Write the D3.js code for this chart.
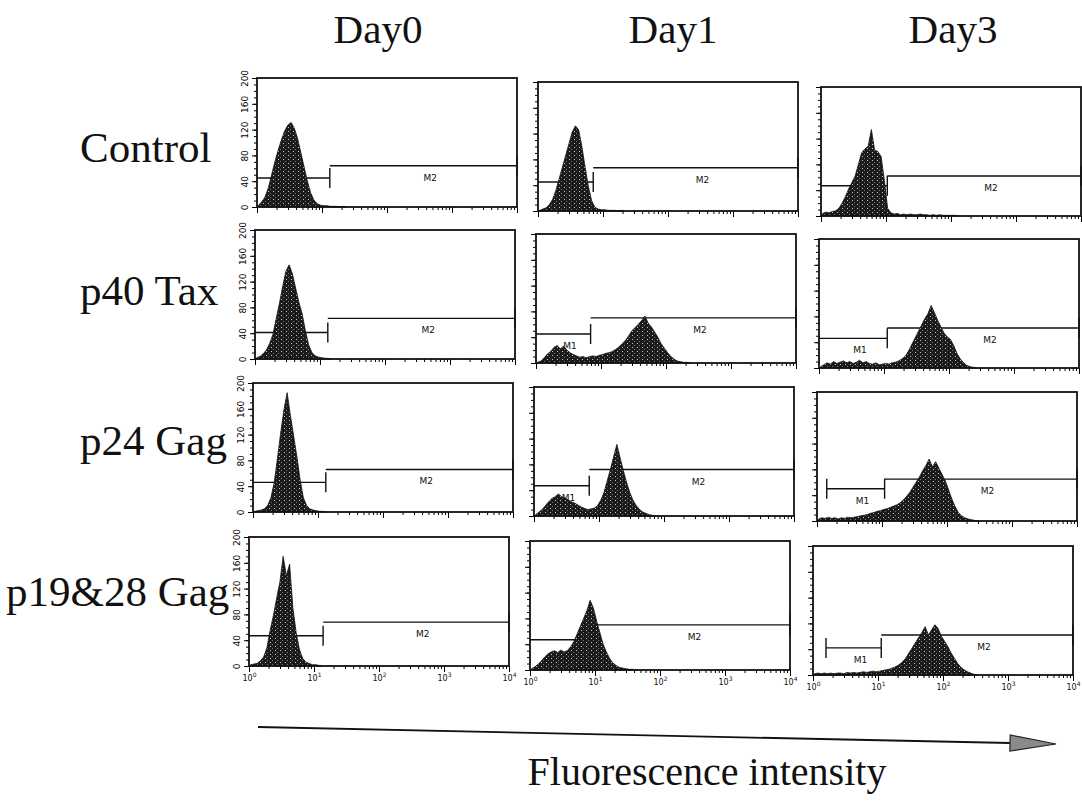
<!DOCTYPE html>
<html>
<head>
<meta charset="utf-8">
<title>Fluorescence histograms</title>
<style>
  body { margin: 0; background: #fff; }
  svg { display: block; }
  .big { font-family: "Liberation Serif", "Times New Roman", serif; fill: #111; }
  .mk { font-family: "DejaVu Sans", sans-serif; font-size: 9px; fill: #111; }
</style>
<script src="https://d3js.org/d3.v7.min.js"></script>
</head>
<body>
<script>
// ---- data ----
var days = ["Day0", "Day1", "Day3"];
var antigens = ["Control", "p40 Tax", "p24 Gag", "p19&28 Gag"];
var countTicks = [0, 40, 80, 120, 160, 200];
var decades = [1, 10, 100, 1000, 10000];

// histogram counts, 20 bins per decade starting at 10^0 (bins past the end are empty)
var hControlD0 = [3, 8, 16, 30, 50, 70, 88, 104, 118, 127, 131, 122, 106, 84, 62, 40, 22, 11, 5, 3, 2, 2, 1, 1, 1, 0, 1];
var hControlD1 = [1, 3, 5, 10, 18, 32, 50, 68, 86, 104, 122, 132, 126, 100, 68, 38, 16, 6, 3, 2, 2, 1, 1, 1, 0, 1];
var hControlD3 = [4, 6, 5, 7, 8, 12, 20, 30, 42, 52, 62, 80, 98, 104, 108, 134, 102, 100, 92, 55, 12, 5, 3, 4, 2, 3, 2, 3, 2, 2, 3, 2, 2, 1, 2, 1, 2, 1, 1, 1, 1, 1];
var hTaxD0 = [2, 4, 8, 14, 24, 38, 62, 86, 112, 136, 146, 132, 110, 88, 70, 44, 22, 10, 5, 3, 2, 1, 1];
var hTaxD1 = [1, 3, 8, 14, 18, 24, 27, 22, 26, 20, 16, 13, 11, 9, 10, 8, 10, 11, 10, 12, 13, 15, 16, 18, 21, 25, 30, 35, 42, 50, 55, 60, 66, 73, 62, 56, 48, 40, 30, 23, 16, 10, 6, 3, 2, 1, 1];
var hTaxD3 = [2, 5, 8, 6, 10, 7, 9, 11, 8, 10, 7, 9, 12, 8, 10, 7, 6, 8, 5, 6, 7, 6, 8, 9, 11, 14, 18, 26, 36, 46, 56, 66, 76, 84, 97, 86, 74, 64, 54, 48, 44, 34, 22, 14, 8, 4, 2, 1];
var hGag24D0 = [1, 2, 3, 5, 10, 22, 45, 82, 122, 158, 185, 150, 118, 86, 50, 22, 10, 5, 3, 2, 1, 1];
var hGag24D1 = [2, 6, 10, 16, 22, 27, 30, 34, 30, 28, 25, 22, 20, 17, 14, 12, 10, 11, 12, 16, 24, 36, 54, 72, 92, 111, 90, 70, 52, 36, 24, 16, 10, 6, 4, 2, 1];
var hGag24D3 = [3, 5, 4, 6, 4, 5, 3, 5, 4, 6, 5, 6, 7, 8, 9, 10, 12, 13, 15, 16, 18, 19, 21, 23, 25, 28, 32, 38, 44, 52, 60, 68, 78, 86, 96, 84, 92, 82, 72, 62, 48, 34, 22, 13, 8, 5, 3, 2, 1];
var hGag19D0 = [2, 3, 4, 8, 14, 28, 55, 78, 105, 130, 170, 140, 158, 90, 52, 26, 12, 6, 4, 2, 2, 1];
var hGag19D1 = [2, 5, 9, 14, 20, 25, 28, 30, 27, 31, 28, 30, 36, 44, 56, 68, 80, 92, 108, 96, 76, 58, 40, 28, 18, 11, 7, 4, 3, 2, 1, 1];
var hGag19D3 = [2, 3, 2, 3, 2, 3, 2, 3, 3, 2, 4, 3, 4, 3, 4, 5, 4, 5, 6, 5, 6, 7, 8, 9, 11, 13, 16, 20, 26, 34, 42, 50, 58, 66, 75, 62, 70, 78, 72, 60, 52, 44, 34, 26, 18, 12, 8, 5, 3, 1];

// markers, row by row: M1 from m1From to gateSplit (log10), M2 from gateSplit to 10^4
var m1From    = [0, 0, 0, 0, 0, 0, 0, 0, 0.15, 0, 0, 0.2];
var gateSplit = [1.12, 0.85, 1.02, 1.12, 0.84, 1.05, 1.12, 0.85, 1.04, 1.14, 0.85, 1.05];
var m1Level   = [45, 45, 47, 41, 45, 46, 46, 47, 50, 47, 47, 42];
var m2Level   = [64, 67, 62, 63, 70, 62, 66, 72, 65, 68, 70, 62];
var m1Named   = [false, false, false, false, true, true, false, true, true, false, false, true];

var histograms = [
  [hControlD0, hControlD1, hControlD3],
  [hTaxD0, hTaxD1, hTaxD3],
  [hGag24D0, hGag24D1, hGag24D3],
  [hGag19D0, hGag19D1, hGag19D3]
];

// ---- layout ----
var width = 1082, height = 801;
var colX = [257, 538, 821];
var rowY = [78, 230, 383, 537];
var rowShift = [0, -2, -4, -8];   // scan is a bit skewed
var colDrop = [0, 4, 9];
var pw = 260, ph = 129;

var svg = d3.select("body").append("svg")
    .attr("width", width)
    .attr("height", height);

var defs = svg.append("defs");
var pat = defs.append("pattern").attr("id", "speckle")
    .attr("width", 5).attr("height", 4).attr("patternUnits", "userSpaceOnUse");
pat.append("rect").attr("width", 5).attr("height", 4).attr("fill", "#1b1b1b");
pat.append("rect").attr("x", 1).attr("y", 1).attr("width", 1).attr("height", 1).attr("fill", "#c8c8c8");
pat.append("rect").attr("x", 3).attr("y", 3).attr("width", 1).attr("height", 1).attr("fill", "#777");

var x = d3.scaleLog().domain([1, 10000]).range([0, pw]);
var y = d3.scaleLinear().domain([0, 200]).range([ph, 0]);

var area = d3.area()
    .x(function(d) { return x(Math.pow(10, d.lg)); })
    .y0(ph)
    .y1(function(d) { return y(d.c); });

var minorX = [];
decades.slice(0, 4).forEach(function(p) {
  for (var k = 2; k <= 9; k++) minorX.push(p * k);
});

// headers
svg.selectAll(".day").data(days).enter().append("text")
    .attr("class", "big day")
    .attr("x", function(d, i) { return [378, 673, 953][i]; })
    .attr("y", 43)
    .attr("text-anchor", "middle")
    .style("font-size", "41px")
    .text(function(d) { return d; });

svg.selectAll(".ag").data(antigens).enter().append("text")
    .attr("class", "big ag")
    .attr("x", function(d, i) { return i == 3 ? 6 : 80; })
    .attr("y", function(d, i) { return [162, 305, 455, 606][i]; })
    .style("font-size", "43px")
    .text(function(d) { return d; });

function marker(g, a, b, lvl, name, named, leftBar) {
  var x0 = x(Math.pow(10, a)), x1 = x(Math.pow(10, b)), yy = y(lvl);
  g.append("line").attr("x1", x0).attr("x2", x1).attr("y1", yy).attr("y2", yy);
  if (leftBar) g.append("line").attr("x1", x0).attr("x2", x0).attr("y1", yy - 10).attr("y2", yy + 10);
  g.append("line").attr("x1", x1).attr("x2", x1).attr("y1", yy - 10).attr("y2", yy + 10);
  if (named) {
    g.append("text").attr("class", "mk")
      .attr("x", x(Math.pow(10, (a + b) / 2)))
      .attr("y", yy + 15)
      .attr("stroke", "none")
      .text(name);
  }
}

antigens.forEach(function(ag, r) {
  days.forEach(function(day, c) {
    var idx = r * 3 + c;
    var g = svg.append("g")
        .attr("transform", "translate(" + (colX[c] + rowShift[r]) + "," + (rowY[r] + colDrop[c]) + ")");

    // markers sit under the histogram
    var mg = g.append("g").attr("stroke", "#111").attr("stroke-width", 1.4);
    marker(mg, m1From[idx], gateSplit[idx], m1Level[idx], "M1", false, m1From[idx] > 0);
    marker(mg, gateSplit[idx], 4, m2Level[idx], "M2", true, false);

    var vals = histograms[r][c];
    var pts = vals.map(function(v, i) { return { lg: (i + 0.5) / 20, c: v }; });
    pts.push({ lg: (vals.length + 0.5) / 20, c: 0 });
    g.append("path").datum(pts)
        .attr("d", area)
        .attr("fill", "url(#speckle)")
        .attr("stroke", "#111")
        .attr("stroke-width", 0.8);

    if (m1Named[idx]) {
      var a = m1From[idx], b = gateSplit[idx];
      g.append("text").attr("class", "mk")
        .attr("x", x(Math.pow(10, (a + b) / 2)))
        .attr("y", y(m1Level[idx]) + 15)
        .text("M1");
    }

    // y ticks
    var yMinor = g.append("g").call(d3.axisLeft(y).tickValues(d3.range(0, 201, 10)).tickSize(3).tickFormat(""));
    yMinor.select(".domain").remove();
    var yMajor = g.append("g").call(d3.axisLeft(y).tickValues(countTicks).tickSize(5));
    yMajor.select(".domain").remove();
    if (c == 0) {
      yMajor.selectAll("text")
        .attr("transform", "rotate(-90)")
        .attr("x", 0).attr("y", -9).attr("dy", 0)
        .attr("text-anchor", "middle")
        .style("font-family", "DejaVu Sans, sans-serif")
        .style("font-size", "9px");
    } else {
      yMajor.selectAll("text").remove();
    }

    // x ticks (log)
    var xMinor = g.append("g").attr("transform", "translate(0," + ph + ")")
        .call(d3.axisBottom(x).tickValues(minorX).tickSize(3).tickFormat(""));
    xMinor.select(".domain").remove();
    var xMajor = g.append("g").attr("transform", "translate(0," + ph + ")")
        .call(d3.axisBottom(x).tickValues(decades).tickSize(6).tickFormat(""));
    xMajor.select(".domain").remove();
    if (r == 3) {
      xMajor.selectAll(".tick").append("text")
        .attr("y", 15)
        .attr("fill", "#111")
        .attr("text-anchor", "middle")
        .style("font-family", "DejaVu Sans, sans-serif")
        .style("font-size", "8px")
        .each(function(d) {
          var t = d3.select(this);
          t.append("tspan").text("10");
          t.append("tspan").attr("dy", -4).style("font-size", "6px").text(Math.round(Math.log10(d)));
        });
    }

    g.append("rect")
        .attr("width", pw).attr("height", ph)
        .attr("fill", "none")
        .attr("stroke", "#111")
        .attr("stroke-width", 1.8);
  });
});

// arrow under the grid
var a0 = [258, 727], a1 = [1056, 744];
var dx = a1[0] - a0[0], dy = a1[1] - a0[1], len = Math.sqrt(dx * dx + dy * dy);
var ux = dx / len, uy = dy / len;
var headLen = 46, headHalf = 8;
var bx = a1[0] - ux * headLen, by = a1[1] - uy * headLen;
svg.append("line")
    .attr("x1", a0[0]).attr("y1", a0[1]).attr("x2", bx).attr("y2", by)
    .attr("stroke", "#111").attr("stroke-width", 1.8);
svg.append("path")
    .attr("d", "M" + a1[0] + "," + a1[1] +
      "L" + (bx - uy * headHalf) + "," + (by + ux * headHalf) +
      "L" + (bx + uy * headHalf) + "," + (by - ux * headHalf) + "Z")
    .attr("fill", "#8a8a8a").attr("stroke", "#222").attr("stroke-width", 1.2);

svg.append("text")
    .attr("class", "big")
    .attr("x", 707).attr("y", 785)
    .attr("text-anchor", "middle")
    .style("font-size", "40px")
    .text("Fluorescence intensity");
</script>
</body>
</html>
